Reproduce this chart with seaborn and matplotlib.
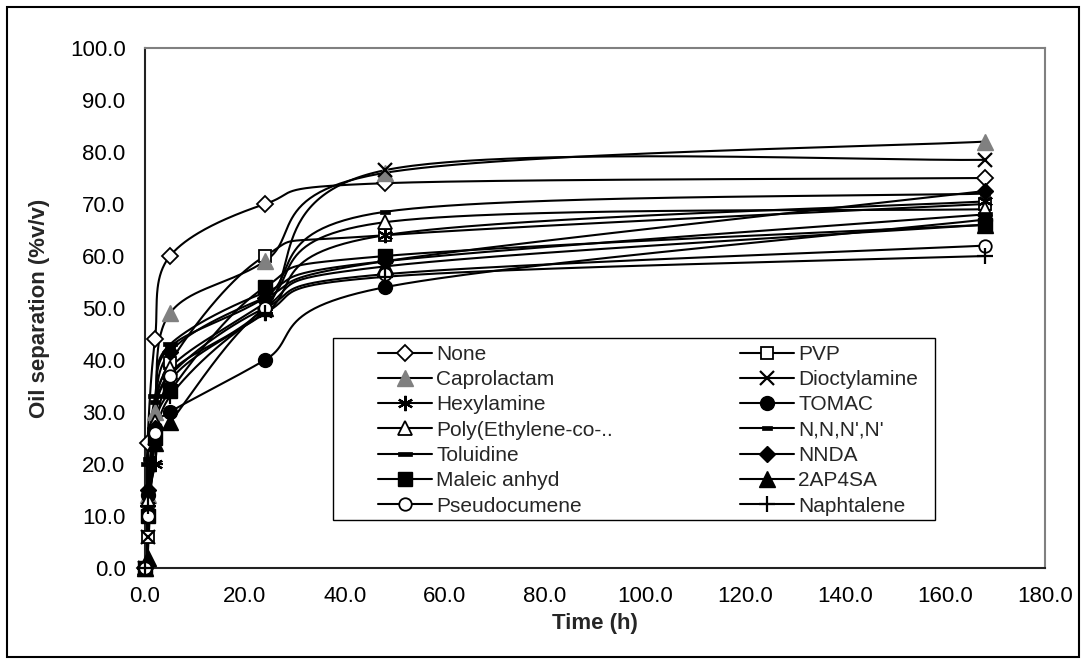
import numpy as np
import pandas as pd
import matplotlib
matplotlib.use("Agg")
import matplotlib.pyplot as plt
from matplotlib.lines import Line2D
from matplotlib.patches import Rectangle
from matplotlib.path import Path
import seaborn as sns

# Sampling times (h)
time_h = [0, 0.5, 2, 5, 24, 48, 168]

# Oil separation (%v/v) for each additive
none_vals = [0, 24, 44, 60, 70, 74, 75]
pvp_vals = [0, 6, 26, 39.5, 60, 64, 70]
caprolactam_vals = [0, 14, 30, 49, 59, 76, 82]
dioctylamine_vals = [0, 6, 25, 37.5, 50, 76.5, 78.5]
hexylamine_vals = [0, 12, 20, 36, 49, 64, 70.5]
tomac_vals = [0, 14, 27, 30, 40, 54, 67]
poly_vals = [0, 13, 28, 38.5, 51, 66.5, 69]
nnnn_vals = [0, 21, 32, 42.5, 52, 68.5, 72]
toluidine_vals = [0, 20, 33, 43, 53, 59, 68]
nnda_vals = [0, 15, 27, 41.5, 52, 59, 72.5]
maleic_vals = [0, 10, 25, 34, 54, 60, 66]
ap4sa_vals = [0, 2, 24, 28, 50, 58, 66]
pseudocumene_vals = [0, 10, 26, 37, 50, 56.5, 62]
naphtalene_vals = [0, 12, 20, 33, 49, 56, 60]

y_ticks = [0, 10, 20, 30, 40, 50, 60, 70, 80, 90, 100]
x_ticks = [0, 20, 40, 60, 80, 100, 120, 140, 160, 180]

GRAY = "#808080"
FS_AX = 16
FS_LEG = 15


def bar_marker(h):
    verts = [(-1, -h), (1, -h), (1, h), (-1, h), (-1, -h)]
    codes = [Path.MOVETO, Path.LINETO, Path.LINETO, Path.LINETO, Path.CLOSEPOLY]
    return Path(verts, codes)


series = [
    ("None", none_vals, dict(marker="D", mfc="white", mec="black", ms=8.5, mew=1.3)),
    ("PVP", pvp_vals, dict(marker="s", mfc="white", mec="black", ms=9, mew=1.3)),
    ("Caprolactam", caprolactam_vals, dict(marker="^", mfc=GRAY, mec=GRAY, ms=11, mew=1.0)),
    ("Dioctylamine", dioctylamine_vals, dict(marker="x", mfc="black", mec="black", ms=10, mew=1.6)),
    ("Hexylamine", hexylamine_vals, dict(marker=(6, 2, 0), mfc="black", mec="black", ms=11, mew=1.6)),
    ("TOMAC", tomac_vals, dict(marker="o", mfc="black", mec="black", ms=10, mew=1.0)),
    ("Poly(Ethylene-co-..", poly_vals, dict(marker="^", mfc="white", mec="black", ms=10, mew=1.3)),
    ("N,N,N',N'", nnnn_vals, dict(marker=bar_marker(0.45), mfc="black", mec="black", ms=6.5, mew=0.5)),
    ("Toluidine", toluidine_vals, dict(marker=bar_marker(0.28), mfc="black", mec="black", ms=10.5, mew=0.5)),
    ("NNDA", nnda_vals, dict(marker="D", mfc="black", mec="black", ms=8.5, mew=1.0)),
    ("Maleic anhyd", maleic_vals, dict(marker="s", mfc="black", mec="black", ms=10, mew=1.0)),
    ("2AP4SA", ap4sa_vals, dict(marker="^", mfc="black", mec="black", ms=11, mew=1.0)),
    ("Pseudocumene", pseudocumene_vals, dict(marker="o", mfc="white", mec="black", ms=9, mew=1.3)),
    ("Naphtalene", naphtalene_vals, dict(marker="+", mfc="black", mec="black", ms=12, mew=1.6)),
]

# Pixel scale of the axes, so the spline is smoothed in display space
PX_X = 5.0
PX_Y = 5.2


def smooth(xs, ys, n=60):
    P = np.column_stack([np.asarray(xs, float) * PX_X, np.asarray(ys, float) * PX_Y])
    out = []
    for i in range(len(P) - 1):
        p0 = P[i - 1] if i > 0 else P[i]
        p1, p2 = P[i], P[i + 1]
        p3 = P[i + 2] if i + 2 < len(P) else P[i + 1]
        c1 = p1 + (p2 - p0) / 6.0
        c2 = p2 - (p3 - p1) / 6.0
        t = np.linspace(0, 1, n)[:, None]
        seg = (1 - t) ** 3 * p1 + 3 * (1 - t) ** 2 * t * c1 + 3 * (1 - t) * t ** 2 * c2 + t ** 3 * p2
        out.append(seg if i == 0 else seg[1:])
    pts = np.vstack(out)
    return pts[:, 0] / PX_X, pts[:, 1] / PX_Y


sns.set_style("white")
plt.rcParams["font.family"] = ["Liberation Sans", "DejaVu Sans"]

W, H = 1086, 664
fig = plt.figure(figsize=(W / 100, H / 100), dpi=100)
fig.patch.set_facecolor("white")
ax = fig.add_axes([145 / W, 1 - 568 / H, 900 / W, 520 / H])

# Smoothed connecting curves
frames = []
for name, vals, _ in series:
    sx, sy = smooth(time_h, vals)
    frames.append(pd.DataFrame({"t": sx, "v": sy, "series": name}))
curves = pd.concat(frames, ignore_index=True)
sns.lineplot(data=curves, x="t", y="v", hue="series", units="series", estimator=None,
             sort=False, palette={n: "black" for n, _, _ in series}, linewidth=1.5,
             legend=False, ax=ax, zorder=2)

# Data-point markers
handles = {}
for name, vals, style in series:
    ax.plot(time_h, vals, linestyle="none", zorder=3, clip_on=False, **style)
    handles[name] = Line2D([0], [0], color="black", lw=1.5, **style)

ax.set_xlim(0, 180)
ax.set_ylim(0, 100)
ax.set_xticks(x_ticks)
ax.set_yticks(y_ticks)
ax.set_xticklabels([f"{v:.1f}" for v in x_ticks])
ax.set_yticklabels([f"{v:.1f}" for v in y_ticks])
ax.tick_params(axis="both", which="major", direction="out", length=6, width=1.2,
               color="#333333", labelsize=FS_AX, labelcolor="black")
ax.tick_params(axis="y", pad=8)
ax.tick_params(axis="x", pad=7)
ax.set_xlabel("")
ax.set_ylabel("")

for side in ["top", "right"]:
    ax.spines[side].set_color(GRAY)
    ax.spines[side].set_linewidth(1.5)
for side in ["left", "bottom"]:
    ax.spines[side].set_color("#222222")
    ax.spines[side].set_linewidth(1.5)

fig.text(595 / W, 1 - 624 / H, "Time (h)", ha="center", va="center",
         fontsize=FS_AX, fontweight="bold")
fig.text(40 / W, 1 - 308 / H, "Oil separation (%v/v)", ha="center", va="center",
         rotation=90, fontsize=FS_AX, fontweight="bold")

# Legend: white box with two columns of entries
box_l, box_t, box_r, box_b = 333, 338, 935, 520
fig.patches.append(Rectangle((box_l / W, 1 - box_b / H), (box_r - box_l) / W, (box_b - box_t) / H,
                             transform=fig.transFigure, facecolor="white",
                             edgecolor="black", linewidth=1.0, zorder=4))
left_col = ["None", "Caprolactam", "Hexylamine", "Poly(Ethylene-co-..", "Toluidine",
            "Maleic anhyd", "Pseudocumene"]
right_col = ["PVP", "Dioctylamine", "TOMAC", "N,N,N',N'", "NNDA", "2AP4SA", "Naphtalene"]
for names, x0 in [(left_col, 378), (right_col, 740)]:
    leg = fig.legend([handles[n] for n in names], names, ncol=1, loc="upper left",
                     bbox_to_anchor=(x0 / W, 1 - 345 / H), bbox_transform=fig.transFigure,
                     fontsize=FS_LEG, frameon=False, borderaxespad=0, borderpad=0,
                     handlelength=2.6, handletextpad=0.2, labelspacing=0.3)
    leg.set_zorder(5)

# Chart border
fig.patches.append(Rectangle((7 / W, 7 / H), 1072 / W, 650 / H, transform=fig.transFigure,
                             fill=False, edgecolor="black", linewidth=1.5))

fig.savefig("out.png", dpi=100, facecolor="white")
